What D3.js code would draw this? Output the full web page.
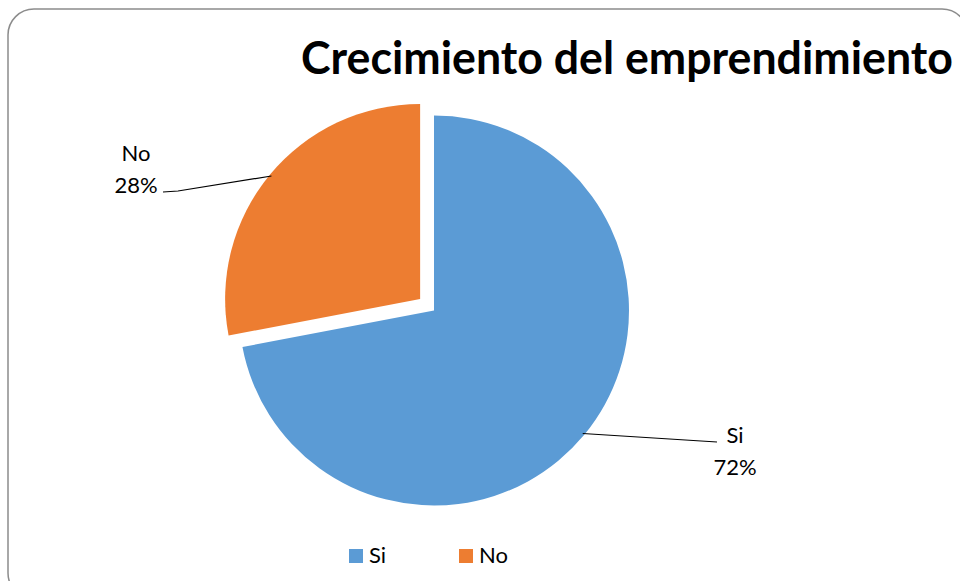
<!DOCTYPE html>
<html><head><meta charset="utf-8">
<script src="https://cdn.jsdelivr.net/npm/d3@7"></script>
<style>html,body{margin:0;padding:0;background:#fff;}svg{display:block;}</style>
</head><body>
<script>
const categories = ["Si", "No"];
const values = [72, 28];
const colors = ["#5B9BD5", "#ED7D31"];
const title = "Crecimiento del emprendimiento";

const W = 960, H = 581;
const svg = d3.select("body").append("svg").attr("width", W).attr("height", H);
svg.append("rect").attr("x", 8).attr("y", 9).attr("width", 960).attr("height", 590)
  .attr("rx", 26).attr("ry", 26).attr("fill", "#fff").attr("stroke", "#8c8c8c").attr("stroke-width", 1.5);

// title: fit to target width by horizontal scaling
const titleCx = 627, titleW = 652;
const tg = svg.append("g");
const tt = tg.append("text").attr("x", 0).attr("y", 0).attr("text-anchor", "middle")
  .attr("font-family", "Lato, 'Open Sans', sans-serif").attr("font-weight", "bold")
  .attr("font-size", 46).attr("fill", "#000").text(title);
const natW = tt.node().getComputedTextLength();
tg.attr("transform", `translate(${titleCx},74) scale(${titleW / natW},1)`);

const cx = 434, cy = 310.5, R = 195, explode = 18;
const data = categories.map((c, i) => ({cat: c, val: values[i], color: colors[i]}));
const pie = d3.pie().sort(null).value(d => d.val).startAngle(0).endAngle(2 * Math.PI);
const arcs = pie(data);
const arc = d3.arc().innerRadius(0).outerRadius(R);
const g = svg.append("g").attr("transform", `translate(${cx},${cy})`);

const offsets = [0, explode];
arcs.forEach((a, i) => {
  const mid = (a.startAngle + a.endAngle) / 2;
  const ox = offsets[i] * Math.sin(mid), oy = -offsets[i] * Math.cos(mid);
  a.ox = ox; a.oy = oy; a.mid = mid;
  g.append("path").attr("d", arc(a)).attr("transform", `translate(${ox},${oy})`).attr("fill", a.data.color);
});

// labels
const labelFont = "Lato, 'Open Sans', sans-serif";
const labelLayout = {
  "Si": {pts: [[717, 442]], tx: 735, ty1: 443, ty2: 475},
  "No": {pts: [[178, 191], [163, 192]], tx: 136, ty1: 161, ty2: 193}
};
arcs.forEach(a => {
  const L = labelLayout[a.data.cat];
  const r0 = R - 2;
  const sx = cx + a.ox + r0 * Math.sin(a.mid), sy = cy + a.oy - r0 * Math.cos(a.mid);
  const pts = [[sx, sy]].concat(L.pts);
  svg.append("path").attr("d", d3.line()(pts)).attr("fill", "none").attr("stroke", "#000").attr("stroke-width", 1.2);
  const pct = Math.round(a.data.val / d3.sum(values) * 100) + "%";
  svg.append("text").attr("x", L.tx).attr("y", L.ty1).attr("text-anchor", "middle")
    .attr("font-family", labelFont).attr("font-size", 22).attr("fill", "#000").text(a.data.cat);
  svg.append("text").attr("x", L.tx).attr("y", L.ty2).attr("text-anchor", "middle")
    .attr("font-family", labelFont).attr("font-size", 22).attr("fill", "#000").text(pct);
});

// legend
const legendX = [349, 459];
categories.forEach((c, i) => {
  svg.append("rect").attr("x", legendX[i]).attr("y", 549).attr("width", 14).attr("height", 14).attr("fill", colors[i]);
  svg.append("text").attr("x", legendX[i] + 20).attr("y", 563).attr("font-family", labelFont)
    .attr("font-size", 22).attr("fill", "#000").text(c);
});
</script>
</body></html>
